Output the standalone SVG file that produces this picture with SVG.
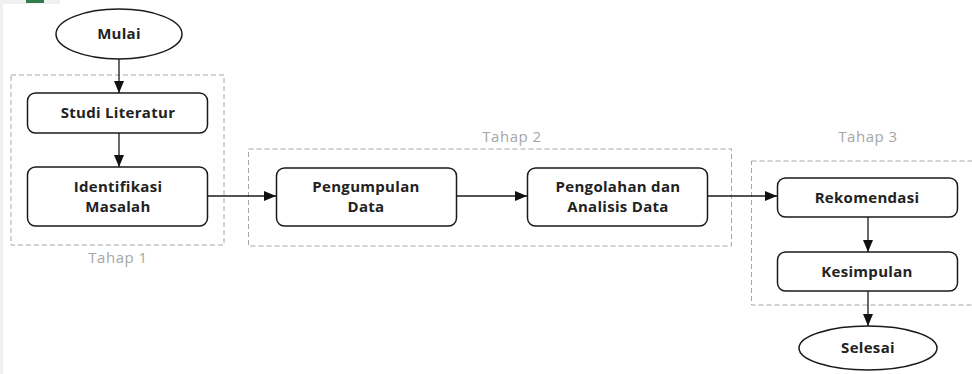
<svg xmlns="http://www.w3.org/2000/svg" width="972" height="374" viewBox="0 0 972 374">
<style>
.n{fill:#fff;stroke:#1a1a1a;stroke-width:1.5}
.t{font-family:"Open Sans","Noto Sans",sans-serif;font-weight:bold;font-size:15px;fill:#222;text-anchor:middle;letter-spacing:0.3px}
.g{fill:none;stroke:#a6a6a6;stroke-width:1;stroke-dasharray:5,3}
.lbl{font-family:"Open Sans","Noto Sans",sans-serif;font-size:15px;fill:#a6a6a6;text-anchor:middle;letter-spacing:0.5px}
.c{fill:none;stroke:#1a1a1a;stroke-width:1.3}
</style>
<defs>
<marker id="ah" viewBox="0 0 12 10" refX="12" refY="5" markerWidth="12" markerHeight="10" markerUnits="userSpaceOnUse" orient="auto">
<path d="M0,0 L12,5 L0,10 z" fill="#111"/>
</marker>
</defs>
<rect width="972" height="374" fill="#fff"/>
<rect x="0" y="0" width="3" height="374" fill="#f0f0f0"/>
<rect x="0" y="0" width="60" height="4" fill="#f0f0f0"/>
<rect x="26" y="0" width="18" height="3" fill="#2e7d4f"/>
<g id="groups">
<rect class="g" x="11" y="75" width="213" height="170"/>
<text class="lbl" x="118" y="263">Tahap 1</text>
<rect class="g" x="248.500" y="149" width="483" height="97"/>
<text class="lbl" x="512" y="142">Tahap 2</text>
<rect class="g" x="751.500" y="161" width="230" height="144"/>
<text class="lbl" x="868" y="142">Tahap 3</text>
</g>
<g id="connectors">
<line class="c" x1="119" y1="59" x2="119" y2="93" marker-end="url(#ah)"/>
<line class="c" x1="119" y1="133" x2="119" y2="167" marker-end="url(#ah)"/>
<line class="c" x1="208" y1="196" x2="276" y2="196" marker-end="url(#ah)"/>
<line class="c" x1="457" y1="196" x2="527" y2="196" marker-end="url(#ah)"/>
<line class="c" x1="708" y1="196" x2="777" y2="196" marker-end="url(#ah)"/>
<line class="c" x1="868" y1="217" x2="868" y2="252" marker-end="url(#ah)"/>
<line class="c" x1="868" y1="291" x2="868" y2="326" marker-end="url(#ah)"/>
</g>
<g id="mulai">
<ellipse class="n" cx="119" cy="34" rx="63" ry="25"/>
<text class="t" x="119" y="39">Mulai</text>
</g>
<g id="studi">
<rect class="n" x="27.500" y="93" width="180" height="40" rx="8"/>
<text class="t" x="118" y="118">Studi Literatur</text>
</g>
<g id="identifikasi">
<rect class="n" x="27.500" y="167" width="180" height="59" rx="8"/>
<text class="t" x="118" y="192">Identifikasi</text>
<text class="t" x="118" y="212">Masalah</text>
</g>
<g id="pengumpulan">
<rect class="n" x="276.500" y="168" width="180" height="58" rx="8"/>
<text class="t" x="366" y="192">Pengumpulan</text>
<text class="t" x="366" y="212">Data</text>
</g>
<g id="pengolahan">
<rect class="n" x="527.500" y="168" width="180" height="58" rx="8"/>
<text class="t" x="618" y="192">Pengolahan dan</text>
<text class="t" x="618" y="212">Analisis Data</text>
</g>
<g id="rekomendasi">
<rect class="n" x="777.500" y="178" width="180" height="39" rx="8"/>
<text class="t" x="867" y="203">Rekomendasi</text>
</g>
<g id="kesimpulan">
<rect class="n" x="777.500" y="252" width="180" height="39" rx="8"/>
<text class="t" x="867" y="277">Kesimpulan</text>
</g>
<g id="selesai">
<ellipse class="n" cx="868" cy="348" rx="69" ry="22"/>
<text class="t" x="868" y="353">Selesai</text>
</g>
</svg>
